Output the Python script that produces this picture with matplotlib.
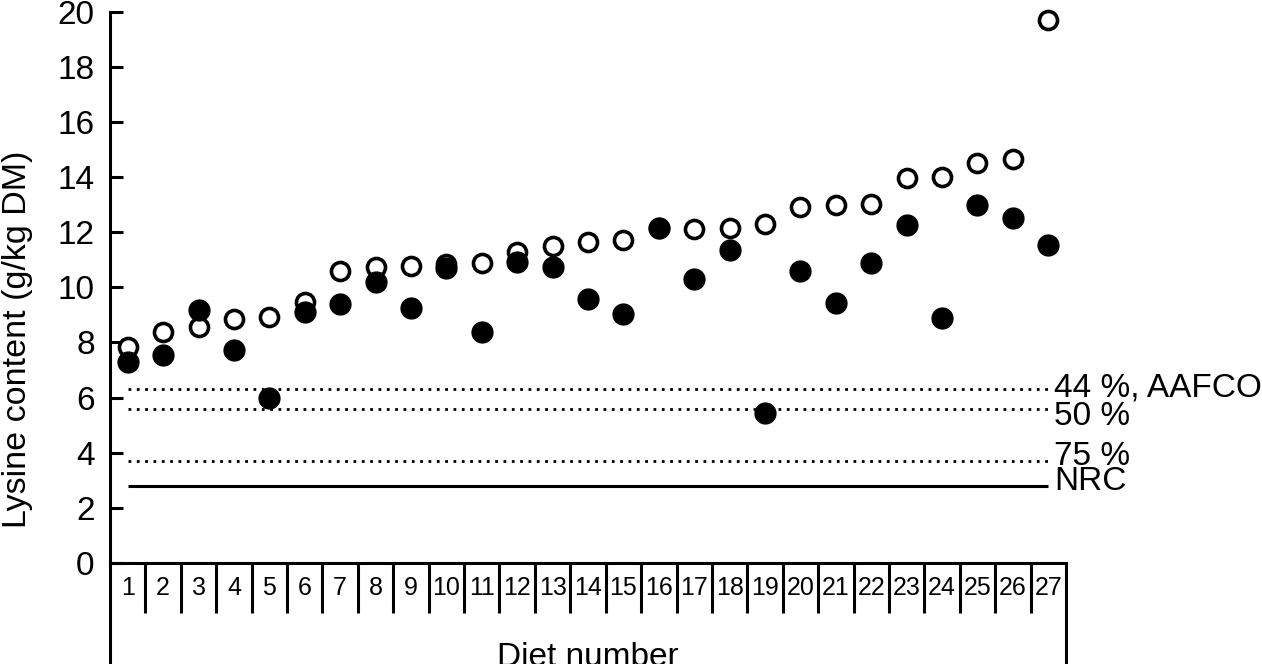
import matplotlib
matplotlib.use("Agg")
import matplotlib.pyplot as plt
import numpy as np

plt.rcParams['font.family'] = ['Liberation Sans', 'DejaVu Sans']

diets = list(range(1, 28))
open_vals = [7.85, 8.37, 8.57, 8.84, 8.91, 9.48, 10.59, 10.75, 10.78, 10.85, 10.87, 11.29, 11.51,
             11.63, 11.7, 12.14, 12.1, 12.14, 12.3, 12.93, 13.0, 13.03, 13.97, 14.0, 14.52, 14.64, 19.7]
filled_vals = [7.3, 7.54, 9.18, 7.73, 6.0, 9.12, 9.38, 10.2, 9.26, 10.72, 8.39, 10.93, 10.75,
               9.56, 9.02, 12.14, 10.3, 11.34, 5.43, 10.6, 9.42, 10.9, 12.25, 8.9, 13.0, 12.53, 11.52]
ref_names = ['44 %, AAFCO', '50 %', '75 %', 'NRC']
ref_vals = [6.31, 5.59, 3.70, 2.79]
yticks = [0, 2, 4, 6, 8, 10, 12, 14, 16, 18, 20]

W, H = 1262, 664
fig = plt.figure(figsize=(W/100, H/100), dpi=100)
y0, y20 = 563.0, 11.7
ax = fig.add_axes([110/W, 1-y0/H, (1066-110)/W, (y0-y20)/H])
ax.set_xlim(0.5, 27.5)
ax.set_ylim(0, 20)

px = 20/(y0-y20)  # data units per pixel in y

lw_sp = 2.2
for s in ['top', 'right']:
    ax.spines[s].set_visible(False)
ax.spines['left'].set_linewidth(lw_sp)
ax.spines['bottom'].set_linewidth(lw_sp)
ax.set_xticks([])
ax.set_yticks(yticks)
ax.set_yticklabels([str(t) for t in yticks], fontsize=24)
ax.tick_params(axis='y', direction='in', length=9, width=lw_sp, pad=11)

# reference lines
for name, v in zip(ref_names, ref_vals):
    if name == 'NRC':
        ax.plot([1, 27], [v, v], color='black', lw=2.2, solid_capstyle='butt')
    else:
        ax.plot([1, 27], [v, v], color='black', lw=2.0, linestyle=(0, (1, 2)))
label_off = [-7.7*px, -16*px, -4*px, -4*px]
for name, v, o in zip(ref_names, ref_vals, label_off):
    ax.text(27.17, v + o, name, fontsize=24, va='baseline', ha='left', clip_on=False)

ax.plot(diets, open_vals, 'o', markerfacecolor='white', markeredgecolor='black',
        markeredgewidth=2.6, markersize=13, zorder=3, clip_on=False)
ax.plot(diets, filled_vals, 'o', color='black', markersize=15, zorder=4, clip_on=False)

# table-like x axis
bottom = -3.9
ax.plot([0.5, 0.5], [0, bottom], color='black', lw=lw_sp, clip_on=False, solid_capstyle='butt')
ax.plot([27.5, 27.5], [0, bottom], color='black', lw=lw_sp, clip_on=False, solid_capstyle='butt')
for i in range(1, 27):
    ax.plot([i + 0.5, i + 0.5], [0, -1.8], color='black', lw=lw_sp, clip_on=False,
            solid_capstyle='butt')
for d in diets:
    ax.text(d, -25*px, str(d), fontsize=18, ha='center', va='center', clip_on=False)
ax.text(14, -103*px, 'Diet number', fontsize=24, ha='center', va='baseline', clip_on=False)

fig.text(18/W, 1-339/H, 'Lysine content (g/kg DM)', fontsize=24.5, rotation=90,
         ha='center', va='center')

fig.savefig('out.png', dpi=100)
